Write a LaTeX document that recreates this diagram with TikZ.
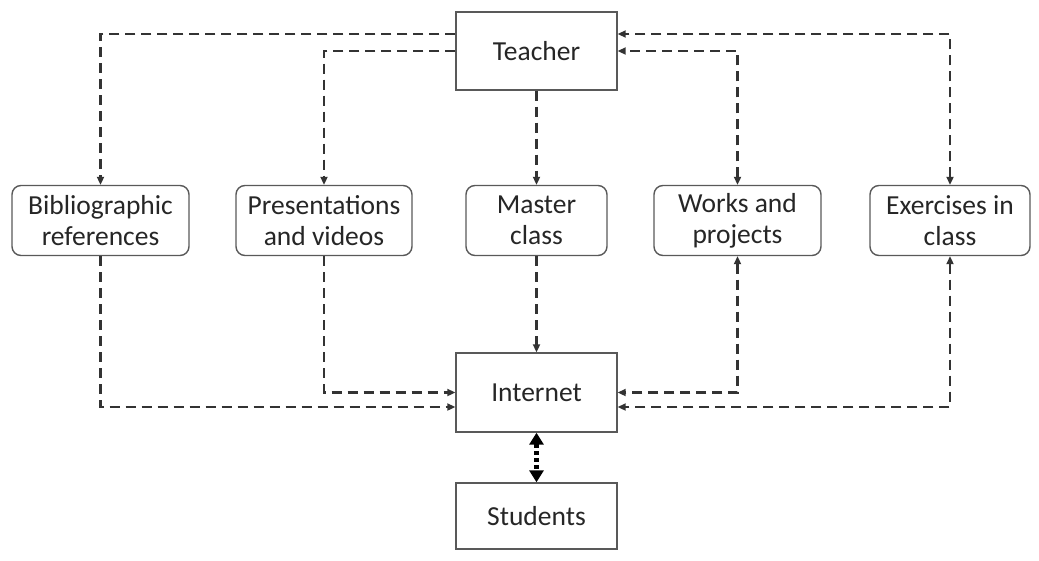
\documentclass[tikz,border=0pt]{standalone}
\usepackage{fontspec}
\setmainfont{Carlito}
\usetikzlibrary{arrows.meta}
\begin{document}
\begin{tikzpicture}[x=1pt,y=-1pt,
  box/.style={draw=black!65, line width=1.4pt, align=center, inner sep=0pt,
    font=\fontsize{27.5}{31}\selectfont, text=black!85},
  rbox/.style={box, rounded corners=9pt},
  dsh/.style={draw=black!80, line width=2.2pt, dash pattern=on 10pt off 6pt,
    >={Triangle[length=8pt,width=7pt]}},
  dotc/.style={draw=black, line width=4.5pt, dash pattern=on 4pt off 3pt,
    >={Triangle[length=12pt,width=14pt]}}]
\useasboundingbox (0,0) rectangle (1039,560);
\node[box, minimum width=161pt, minimum height=78pt] (teacher) at (536.5,51) {Teacher};
\node[box, minimum width=161pt, minimum height=79pt] (internet) at (536.5,392.5) {Internet};
\node[box, minimum width=161pt, minimum height=66pt] (students) at (536.5,516) {Students};
\node[rbox, minimum width=177pt, minimum height=70pt] (bib) at (100.5,220.5) {Bibliographic\\references};
\node[rbox, minimum width=176pt, minimum height=70pt] (pres) at (324,220.5) {Presentations\\and videos};
\node[rbox, minimum width=141pt, minimum height=70pt] (master) at (536.5,220.5) {Master\\class};
\node[rbox, minimum width=167pt, minimum height=70pt] (works) at (737.5,220.5) {Works and\\projects};
\node[rbox, minimum width=160pt, minimum height=70pt] (ex) at (950,220.5) {Exercises in\\class};
% teacher to top row
\draw[dsh,->] ([yshift=17pt]teacher.west) -| (bib.north);
\draw[dsh,->] (teacher.west) -| (pres.north);
\draw[dsh,->] (teacher.south) -- (master.north);
\draw[dsh,<->] (works.north) |- (teacher.east);
\draw[dsh,<->] (ex.north) |- ([yshift=17pt]teacher.east);
% top row to internet
\draw[dsh,->] (bib.south) |- ([yshift=-14.5pt]internet.west);
\draw[dsh,->] (pres.south) |- (internet.west);
\draw[dsh,->] (master.south) -- (internet.north);
\draw[dsh,<->] (works.south) |- (internet.east);
\draw[dsh,<->] (ex.south) |- ([yshift=-14.5pt]internet.east);
% internet - students
\draw[dotc,<->] (internet.south) -- (students.north);
\end{tikzpicture}
\end{document}
